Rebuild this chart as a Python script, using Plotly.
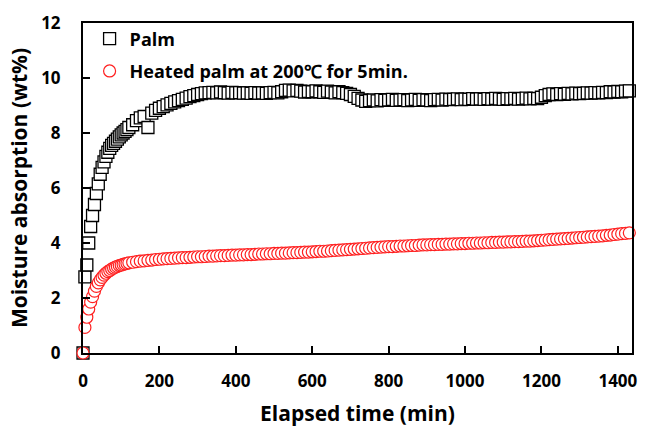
import plotly.graph_objects as go

time_min = [
    0, 5, 10, 15, 20, 25, 30, 35, 40, 45, 50, 55, 60, 65, 70, 75, 80, 85, 90, 95,
    100, 105, 110, 115, 120,
    130, 140, 150, 160, 170, 180, 190, 200, 210, 220,
    230, 240, 250, 260, 270, 280, 290, 300, 310, 320,
    330, 340, 350, 360, 370, 380, 390, 400, 410, 420,
    430, 440, 450, 460, 470, 480, 490, 500, 510, 520,
    530, 540, 550, 560, 570, 580, 590, 600, 610, 620,
    630, 640, 650, 660, 670, 680, 690, 700, 710, 720,
    730, 740, 750, 760, 770, 780, 790, 800, 810, 820,
    830, 840, 850, 860, 870, 880, 890, 900, 910, 920,
    930, 940, 950, 960, 970, 980, 990, 1000, 1010, 1020,
    1030, 1040, 1050, 1060, 1070, 1080, 1090, 1100, 1110, 1120,
    1130, 1140, 1150, 1160, 1170, 1180, 1190, 1200, 1210, 1220,
    1230, 1240, 1250, 1260, 1270, 1280, 1290, 1300, 1310, 1320,
    1330, 1340, 1350, 1360, 1370, 1380, 1390, 1400, 1410, 1420,
    1430, 1440,
]

palm = [
    0, 2.77, 3.2, 4.0, 4.6, 5.0, 5.4, 5.8, 6.15, 6.5, 6.75, 6.95, 7.15, 7.3, 7.44, 7.55, 7.62, 7.7, 7.78, 7.86,
    7.93, 8.0, 8.06, 8.12, 8.2,
    8.3, 8.45, 8.55, 8.6, 8.2, 8.72, 8.82, 8.9, 8.96, 9.02,
    9.08, 9.13, 9.18, 9.22, 9.27, 9.32, 9.36, 9.4, 9.43, 9.46,
    9.47, 9.48, 9.46, 9.49, 9.47, 9.45, 9.48, 9.46, 9.47, 9.45,
    9.46, 9.44, 9.47, 9.45, 9.46, 9.44, 9.47, 9.48, 9.46, 9.5,
    9.55, 9.56, 9.53, 9.55, 9.52, 9.49, 9.51, 9.5, 9.53, 9.5,
    9.48, 9.52, 9.49, 9.46, 9.5, 9.47, 9.44, 9.4, 9.33, 9.26,
    9.2, 9.15, 9.18, 9.2, 9.17, 9.21, 9.19, 9.2, 9.22, 9.19,
    9.2, 9.21, 9.18, 9.2, 9.22, 9.19, 9.21, 9.2, 9.18, 9.21,
    9.22, 9.2, 9.23, 9.21, 9.22, 9.24, 9.21, 9.23, 9.22, 9.25,
    9.23, 9.24, 9.22, 9.25, 9.23, 9.26, 9.24, 9.22, 9.25, 9.24,
    9.26, 9.23, 9.25, 9.27, 9.24, 9.26, 9.25, 9.3, 9.36, 9.4,
    9.42, 9.4, 9.43, 9.41, 9.44, 9.42, 9.45, 9.43, 9.44, 9.46,
    9.45, 9.47, 9.46, 9.48, 9.47, 9.5, 9.49, 9.51, 9.5, 9.52,
    9.53, 9.55,
]

heated_palm = [
    0, 0.93, 1.3, 1.6, 1.85, 2.05, 2.25, 2.42, 2.55, 2.66, 2.75, 2.83, 2.9, 2.96, 3.0, 3.05, 3.09, 3.12, 3.15, 3.18,
    3.2, 3.22, 3.24, 3.26, 3.28,
    3.3, 3.32, 3.34, 3.35, 3.37, 3.38, 3.4, 3.41, 3.42, 3.43,
    3.44, 3.45, 3.46, 3.47, 3.47, 3.48, 3.49, 3.5, 3.5, 3.51,
    3.52, 3.52, 3.53, 3.54, 3.54, 3.55, 3.56, 3.56, 3.57, 3.57,
    3.58, 3.58, 3.59, 3.6, 3.6, 3.61, 3.61, 3.62, 3.62, 3.63,
    3.63, 3.64, 3.65, 3.65, 3.66, 3.67, 3.67, 3.68, 3.69, 3.7,
    3.7, 3.71, 3.72, 3.73, 3.74, 3.75, 3.76, 3.77, 3.78, 3.79,
    3.8, 3.81, 3.82, 3.83, 3.84, 3.85, 3.86, 3.87, 3.87, 3.88,
    3.89, 3.89, 3.9, 3.91, 3.91, 3.92, 3.93, 3.93, 3.94, 3.94,
    3.95, 3.95, 3.96, 3.96, 3.97, 3.97, 3.98, 3.98, 3.99, 3.99,
    4.0, 4.0, 4.01, 4.01, 4.02, 4.02, 4.03, 4.03, 4.04, 4.04,
    4.05, 4.05, 4.06, 4.07, 4.07, 4.08, 4.09, 4.1, 4.11, 4.12,
    4.13, 4.14, 4.15, 4.16, 4.17, 4.18, 4.19, 4.2, 4.21, 4.22,
    4.23, 4.24, 4.25, 4.26, 4.28, 4.29, 4.31, 4.32, 4.34, 4.35,
    4.37, 4.4,
]

x_ticks = [0, 200, 400, 600, 800, 1000, 1200, 1400]
y_ticks = [0, 2, 4, 6, 8, 10, 12]

series_names = ["Palm", "Heated palm at 200\u2103 for 5min."]

FONT = "Open Sans"

fig = go.Figure()
fig.add_trace(go.Scatter(
    x=time_min, y=palm, mode="markers", name=series_names[0],
    legendgroup="a", cliponaxis=False,
    marker=dict(symbol="square", size=12, color="white",
                line=dict(color="black", width=1.3)),
))
fig.add_trace(go.Scatter(
    x=time_min, y=heated_palm, mode="markers", name=series_names[1],
    legendgroup="b", cliponaxis=False,
    marker=dict(symbol="circle", size=12, color="white",
                line=dict(color="#ff2020", width=1.2)),
))

axis_common = dict(
    showline=True, linecolor="black", linewidth=2, mirror=True,
    ticks="inside", ticklen=7, tickwidth=1.5, tickcolor="black",
    showgrid=False, zeroline=False,
    tickfont=dict(family=FONT, size=17, color="black", weight="bold"),
)

fig.update_layout(
    width=647, height=433,
    margin=dict(l=83, r=10, t=23, b=80),
    paper_bgcolor="white", plot_bgcolor="white",
    font=dict(family=FONT, color="black"),
    showlegend=True,
    legend=dict(
        x=0.012, y=1.008, xanchor="left", yanchor="top",
        bgcolor="rgba(0,0,0,0)", traceorder="grouped", tracegroupgap=6,
        font=dict(family=FONT, size=18, color="black", weight="bold"),
    ),
    xaxis=dict(
        range=[0, 1437], tickvals=x_ticks, ticklabelstandoff=12,
        title=dict(text="Elapsed time (min)", standoff=15,
                   font=dict(family=FONT, size=21, color="black", weight="bold")),
        **axis_common,
    ),
    yaxis=dict(
        range=[0, 12], tickvals=y_ticks, ticklabelstandoff=17,
        title=dict(text="Moisture absorption (wt%)", standoff=8,
                   font=dict(family=FONT, size=21, color="black", weight="bold")),
        **axis_common,
    ),
)

fig.write_html("out.html")
